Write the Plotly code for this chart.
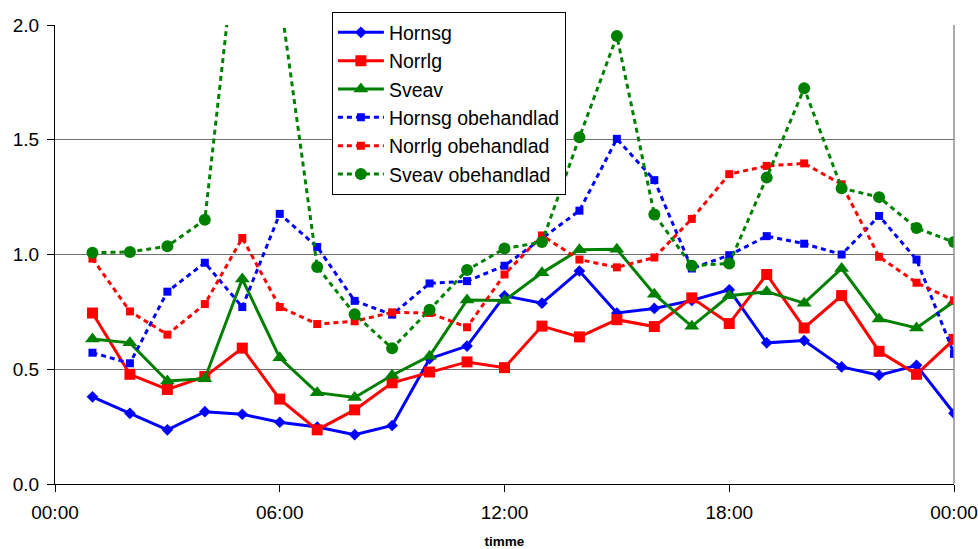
import plotly.graph_objects as go

hours = list(range(1, 25))
x_tickvals = [0, 6, 12, 18, 24]
x_ticktext = ["00:00", "06:00", "12:00", "18:00", "00:00"]
y_tickvals = [0.0, 0.5, 1.0, 1.5, 2.0]

hornsg = [0.380, 0.308, 0.236, 0.315, 0.304, 0.269, 0.248, 0.215, 0.255, 0.546, 0.601, 0.820,
          0.788, 0.928, 0.745, 0.765, 0.800, 0.846, 0.615, 0.625, 0.510, 0.474, 0.517, 0.308]
norrlg = [0.745, 0.478, 0.412, 0.468, 0.592, 0.370, 0.236, 0.323, 0.441, 0.488, 0.532, 0.507,
          0.688, 0.641, 0.716, 0.686, 0.811, 0.699, 0.913, 0.680, 0.821, 0.578, 0.478, 0.630]
sveav = [0.632, 0.615, 0.449, 0.459, 0.893, 0.550, 0.398, 0.377, 0.474, 0.557, 0.802, 0.800,
         0.920, 1.021, 1.023, 0.827, 0.687, 0.820, 0.838, 0.788, 0.939, 0.719, 0.680, 0.795]
hornsg_ob = [0.572, 0.526, 0.838, 0.964, 0.771, 1.177, 1.033, 0.798, 0.738, 0.874, 0.884, 0.951,
             1.070, 1.191, 1.504, 1.324, 0.939, 0.997, 1.080, 1.047, 1.000, 1.168, 0.978, 0.567]
norrlg_ob = [0.982, 0.752, 0.651, 0.784, 1.072, 0.771, 0.697, 0.709, 0.748, 0.745, 0.683, 0.913,
             1.083, 0.978, 0.944, 0.987, 1.155, 1.350, 1.386, 1.397, 1.306, 0.990, 0.877, 0.800]
sveav_ob = [1.008, 1.011, 1.036, 1.151, 2.600, 2.130, 0.946, 0.740, 0.591, 0.759, 0.932, 1.026,
            1.054, 1.511, 1.952, 1.174, 0.951, 0.961, 1.335, 1.724, 1.289, 1.250, 1.115, 1.054]

BLUE, RED, GREEN = "#0000FF", "#FF0000", "#008000"
DOT = "5px,4px"

series = [
    ("Hornsg", hornsg, BLUE, "solid", "diamond", 9),
    ("Norrlg", norrlg, RED, "solid", "square", 11),
    ("Sveav", sveav, GREEN, "solid", "triangle-up", 13),
    ("Hornsg obehandlad", hornsg_ob, BLUE, DOT, "square", 8),
    ("Norrlg obehandlad", norrlg_ob, RED, DOT, "square", 8),
    ("Sveav obehandlad", sveav_ob, GREEN, DOT, "circle", 12),
]

fig = go.Figure()
for name, vals, col, dash, sym, size in series:
    fig.add_trace(go.Scatter(
        x=hours, y=vals, name=name, mode="lines+markers",
        line=dict(color=col, width=3, dash=dash),
        marker=dict(symbol=sym, size=size, color=col, line=dict(width=0)),
    ))

FONT = "Liberation Sans, Arial, sans-serif"

fig.update_layout(
    width=978, height=549,
    margin=dict(l=55, r=24, t=21, b=65),
    paper_bgcolor="white", plot_bgcolor="white",
    font=dict(family=FONT, size=19, color="black"),
    showlegend=True,
    legend=dict(
        x=0.308, y=1.028, xanchor="left", yanchor="top",
        bgcolor="white", bordercolor="black", borderwidth=1,
        font=dict(family=FONT, size=19.5, color="black"),
        itemwidth=46,
    ),
    xaxis=dict(
        range=[0, 24], tickvals=x_tickvals, ticktext=x_ticktext,
        automargin=False,
        showgrid=False, zeroline=False,
        showline=True, linecolor="black", linewidth=1,
        ticks="outside", ticklen=7, tickcolor="black",
        tickfont=dict(family=FONT, size=19),
        ticklabelstandoff=4,
        title=dict(text="<b>timme</b>", font=dict(family=FONT, size=13.5), standoff=18),
    ),
    yaxis=dict(
        range=[0, 2.0], tickvals=y_tickvals, tickformat=".1f",
        automargin=False,
        showgrid=True, gridcolor="#707070", gridwidth=1,
        zeroline=False,
        showline=True, linecolor="black", linewidth=1,
        ticks="outside", ticklen=7, tickcolor="black",
        tickfont=dict(family=FONT, size=19),
        ticklabelstandoff=4,
    ),
    shapes=[dict(type="line", xref="paper", yref="paper", x0=1, x1=1, y0=0, y1=1,
                 line=dict(color="#909090", width=1.5))],
)

fig.write_html("out.html")
